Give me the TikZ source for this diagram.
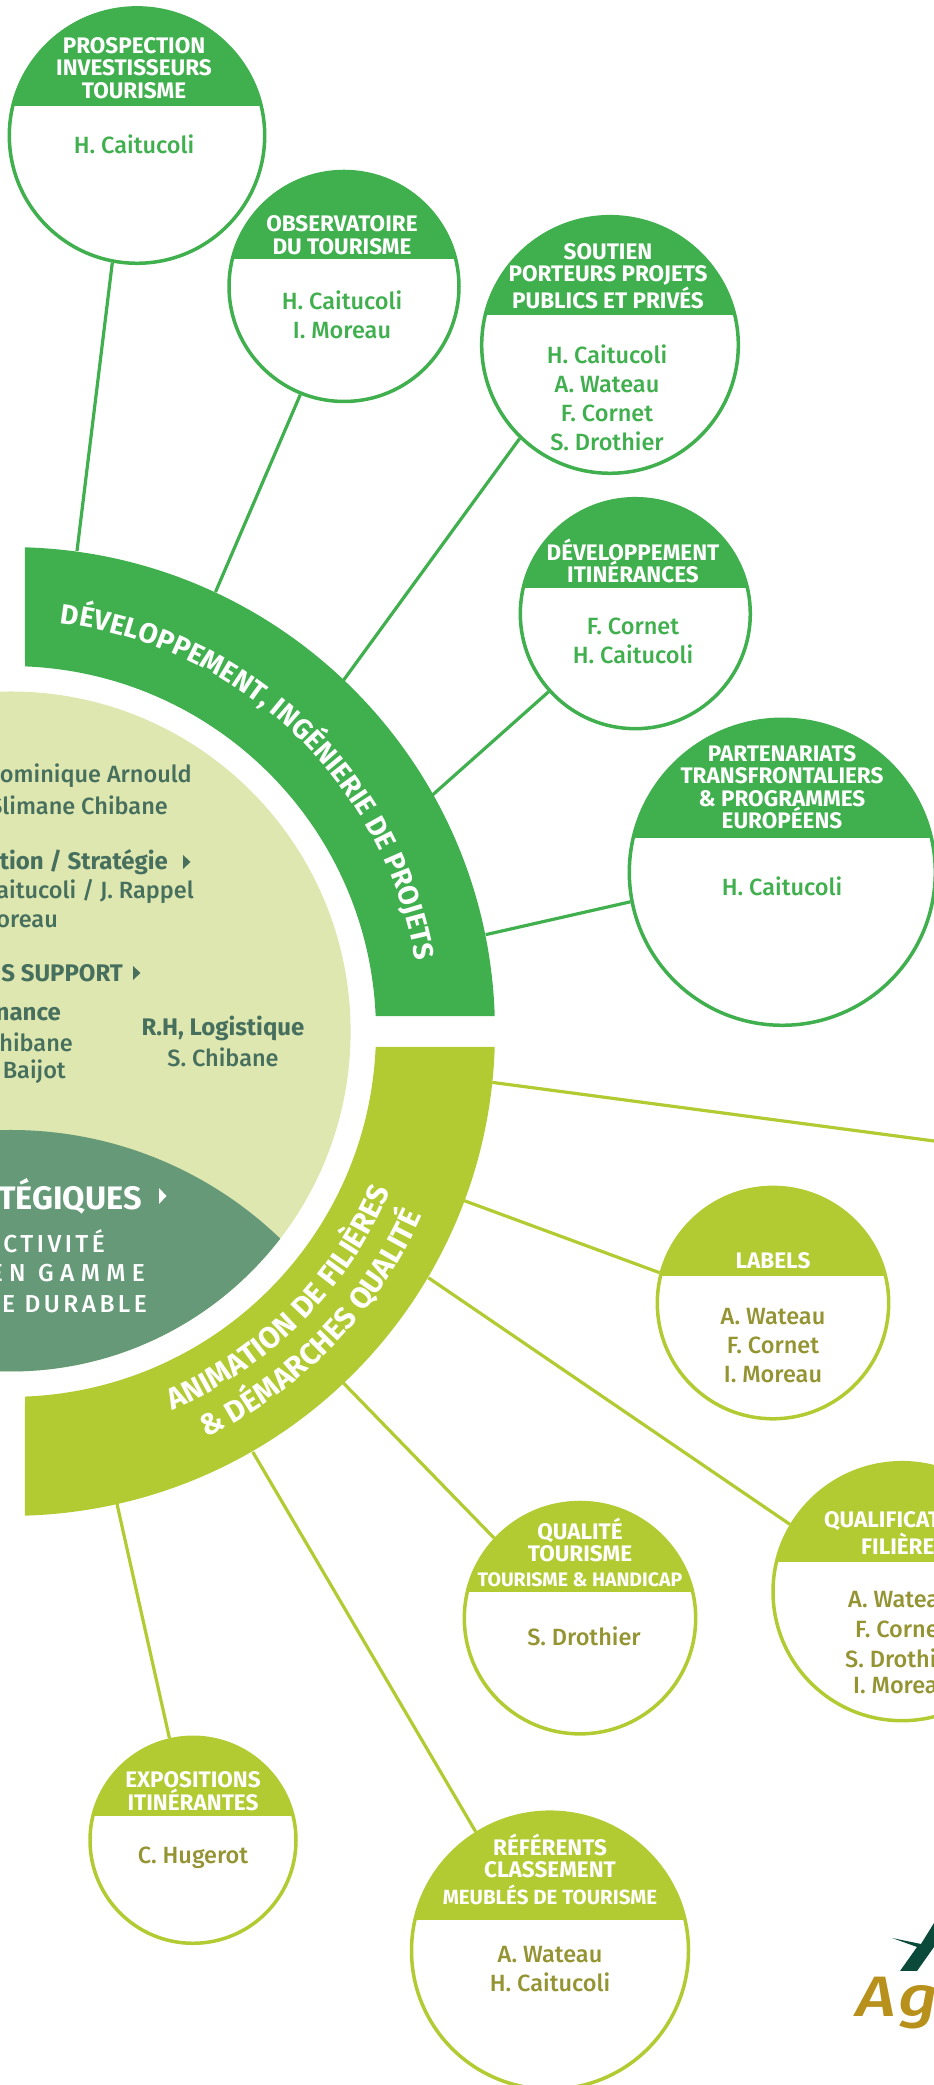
\documentclass[tikz,border=0pt]{standalone}
\usepackage{fontspec}
\setmainfont{Fira Sans}[UprightFont=* Medium, BoldFont=* Bold, ItalicFont=* Medium Italic]
\usetikzlibrary{decorations.text}
\definecolor{vert}{HTML}{40AF4E}
\definecolor{lime}{HTML}{B2CB33}
\definecolor{pale}{HTML}{DEE7AF}
\definecolor{sauge}{HTML}{659978}
\definecolor{ardoise}{HTML}{476F5E}
\definecolor{olive}{HTML}{959433}
\definecolor{sapin}{HTML}{0B4A3B}
\definecolor{ocre}{HTML}{B8901C}
\tikzset{
  link/.style={line width=3.2pt},
  bulle/.style={circle, draw, line width=3.5pt, fill=white, inner sep=0pt},
  titre/.style={align=center, inner sep=0pt, text=white, font=\fontsize{22.5}{22.5}\selectfont\bfseries},
  titrelong/.style={titre, font=\fontsize{19.5}{22.5}\selectfont\bfseries},
  noms/.style={align=center, inner sep=0pt, font=\fontsize{23.5}{29}\selectfont},
  interne/.style={inner sep=0pt, text=ardoise, font=\fontsize{23.5}{29}\selectfont},
  internegras/.style={inner sep=0pt, text=ardoise, font=\fontsize{24}{29}\selectfont\bfseries},
  sousaxe/.style={anchor=east, inner sep=0pt, text=white, font=\fontsize{24.5}{24.5}\selectfont\addfontfeatures{LetterSpace=14}}
}
\newcommand{\fleche}[4]{\fill[#3] (#1,#2+#4) -- (#1+7.5,#2) -- (#1,#2-#4) -- cycle;}
\newcommand{\fontbande}{\fontsize{28}{28}\selectfont\bfseries\color{white}}
\newcommand{\fontbandeb}{\fontsize{30}{30}\selectfont\bfseries\color{white}}
\begin{document}
\begin{tikzpicture}[x=1pt,y=1pt]
  \useasboundingbox (0,0) rectangle (934,2085);
  \clip (0,0) rectangle (934,2085);

  % Centre disc
  \coordinate (ring) at (10.6,1053.5);
  \fill[pale] (ring) circle[radius=340];
  \begin{scope}
    \clip (ring) circle[radius=340];
    \fill[sauge] (10.6,566) circle[radius=389];
  \end{scope}

  % Two bands
  \begin{scope}[shift={(ring)}]
    \fill[vert] (1.83:484.4) arc[start angle=1.83, end angle=88.3, radius=484.4]
      -- (87.74:365.4) arc[start angle=87.74, end angle=2.43, radius=365.4] -- cycle;
    \fill[lime] (-1.83:484.4) arc[start angle=-1.83, end angle=-88.3, radius=484.4]
      -- (-87.74:365.4) arc[start angle=-87.74, end angle=-2.43, radius=365.4] -- cycle;
    \path[decorate, decoration={text along path, text align=center,
        text={|\fontbande|DÉVELOPPEMENT, INGÉNIERIE DE PROJETS}}]
      (86:411) arc[start angle=86, end angle=7, radius=411];
    \path[decorate, decoration={text along path, text align=center,
        text={|\fontbandeb|ANIMATION DE FILIÈRES}}]
      (-68:412) arc[start angle=-68, end angle=-21.6, radius=412];
    \path[decorate, decoration={text along path, text align=center,
        text={|\fontbandeb|{\&} DÉMARCHES QUALITÉ}}]
      (-67:451) arc[start angle=-67, end angle=-21.4, radius=451];
  \end{scope}

  % Ends of the links on the bands
  \coordinate (ba) at (77,1534);
  \coordinate (bb) at (215.5,1493);
  \coordinate (bc) at (343,1404);
  \coordinate (bd) at (432.4,1289.9);
  \coordinate (be) at (485.6,1150.3);
  \coordinate (bf) at (492.3,1002.6);
  \coordinate (bg) at (464.3,884.3);
  \coordinate (bh) at (428.4,807.2);
  \coordinate (bi) at (343.3,702.1);
  \coordinate (bj) at (252.8,633);
  \coordinate (bk) at (117,581);
  \coordinate (horspage) at (934,944);

  % Bubbles
  \foreach \id/\cx/\cy/\rr/\cut/\tone in {
    prospection/137/1949.4/127.7/1978.6/vert,
    observatoire/344/1798.5/115/1825.7/vert,
    soutien/610/1740/128.3/1769.9/vert,
    itinerance/635.3/1471.3/115/1497.3/vert,
    partenariats/782.3/1212.7/153/1247.3/vert,
    labels/773/781.9/115.7/808.5/lime,
    qualification/902/493.3/129/522.6/lime,
    qualite/580/466.8/115.7/493.3/lime,
    expositions/193/244.7/103/268.6/lime,
    referents/550/134.3/138.5/165/lime}
  {
    \node[bulle, draw=\tone, minimum size=2*\rr] (\id) at (\cx,\cy) {};
    \begin{scope}
      \clip (\cx,\cy) circle[radius=\rr];
      \fill[\tone] (\cx-\rr,\cut) rectangle (\cx+\rr,\cy+\rr);
    \end{scope}
  }

  % Links
  \draw[link, vert] (ba) -- (prospection.259);
  \draw[link, vert] (bb) -- (observatoire.248);
  \draw[link, vert] (bc) -- (soutien.226);
  \draw[link, vert] (bd) -- (itinerance.222);
  \draw[link, vert] (be) -- (partenariats.191);
  \draw[link, lime] (bf) -- (horspage);
  \draw[link, lime] (bg) -- (labels.165);
  \draw[link, lime] (bh) -- (qualification.149);
  \draw[link, lime] (bi) -- (qualite.137);
  \draw[link, lime] (bj) -- (referents.122);
  \draw[link, lime] (bk) -- (expositions.103);

  % Titles
  \node[titre] (tprospection) at (134,2017) {PROSPECTION\\INVESTISSEURS\\TOURISME};
  \node[titre] (tobservatoire) at (342,1850) {OBSERVATOIRE\\DU TOURISME};
  \node[titre] (tsoutien) at (608,1809) {SOUTIEN\\PORTEURS PROJETS\\PUBLICS ET PRIVÉS};
  \node[titre] (titinerance) at (633,1524) {DÉVELOPPEMENT\\ITINÉRANCES};
  \node[titre] (tpartenariats) at (782,1298) {PARTENARIATS\\TRANSFRONTALIERS\\\& PROGRAMMES\\EUROPÉENS};
  \node[titre] (tlabels) at (773,824.5) {LABELS};
  \node[titre, anchor=west] (tqualifa) at (824,564) {QUALIFICAT};
  \node[titre, anchor=west] (tqualifb) at (861,541) {FILIÈRE};
  \node[titre] (tqualite) at (580,545) {QUALITÉ\\TOURISME};
  \node[titrelong] (thandicap) at (580,505) {TOURISME \& HANDICAP};
  \node[titre] (texpositions) at (193,294) {EXPOSITIONS\\ITINÉRANTES};
  \node[titre] (treferents) at (550,229) {RÉFÉRENTS\\CLASSEMENT};
  \node[titrelong, font=\fontsize{20.5}{22.5}\selectfont\bfseries] (tmeubles) at (550,190) {MEUBLÉS DE TOURISME};

  % Names
  \node[noms, text=vert] (nprospection) at (134,1941) {H. Caitucoli};
  \node[noms, text=vert] (nobservatoire) at (342,1770) {H. Caitucoli\\I. Moreau};
  \node[noms, text=vert] (nsoutien) at (607,1687) {H. Caitucoli\\A. Wateau\\F. Cornet\\S. Drothier};
  \node[noms, text=vert] (nitinerance) at (633,1444) {F. Cornet\\H. Caitucoli};
  \node[noms, text=vert] (npartenariats) at (782,1199) {H. Caitucoli};
  \node[noms, text=olive] (nlabels) at (773,739) {A. Wateau\\F. Cornet\\I. Moreau};
  \node[noms, text=olive, anchor=west] (nqualifa) at (848,485) {A. Watea};
  \node[noms, text=olive, anchor=west] (nqualifb) at (855,456) {F. Corne};
  \node[noms, text=olive, anchor=west] (nqualifc) at (845,427) {S. Drothi};
  \node[noms, text=olive, anchor=west] (nqualifd) at (853,399) {I. Morea};
  \node[noms, text=olive] (nqualite) at (584,449) {S. Drothier};
  \node[noms, text=olive] (nexpositions) at (193,227) {C. Hugerot};
  \node[noms, text=olive] (nreferents) at (550,116) {A. Wateau\\H. Caitucoli};

  % Text on the disc, cut by the page edge
  \node[interne, anchor=east] (da) at (192,1309) {ominique Arnould};
  \node[interne, anchor=east] (db) at (168,1280) {Slimane Chibane};
  \node[internegras, anchor=east] (dc) at (168,1223) {tion / Stratégie};
  \node[interne, anchor=east] (dd) at (194,1193) {aitucoli / J. Rappel};
  \node[interne, anchor=east] (de) at (58,1164) {oreau};
  \node[internegras, anchor=east] (df) at (123,1112) {S SUPPORT};
  \node[internegras, anchor=east] (dg) at (61,1071) {nance};
  \node[interne, anchor=east] (dh) at (73,1043) {hibane};
  \node[interne, anchor=east] (di) at (66,1013) {Baijot};
  \node[internegras] (dj) at (223,1057) {R.H, Logistique};
  \node[interne] (dk) at (223,1028) {S. Chibane};
  \fleche{183}{1223}{ardoise}{7}
  \fleche{133}{1112}{ardoise}{7}
  \node[anchor=east, inner sep=0pt, text=white, font=\fontsize{32.5}{32.5}\selectfont\bfseries] (sa) at (142,889) {TÉGIQUES};
  \fleche{159}{889}{white}{8}
  \node[sousaxe] (sb) at (105,844) {CTIVITÉ};
  \node[sousaxe, font=\fontsize{24.5}{24.5}\selectfont\addfontfeatures{LetterSpace=26}] (sc) at (145,812) {EN GAMME};
  \node[sousaxe] (sd) at (147,781) {E DURABLE};

  % Logo
  \fill[sapin] (892,147) -- (921,141) -- (934,162) -- (934,138) -- (917,114) -- (900,114) -- (917,138) -- cycle;
  \node[anchor=base west, inner sep=0pt, text=ocre, font=\fontsize{57}{57}\selectfont\itshape\addfontfeatures{LetterSpace=6,FakeStretch=1.2}] (logo) at (856,68) {Age};
\end{tikzpicture}
\end{document}
